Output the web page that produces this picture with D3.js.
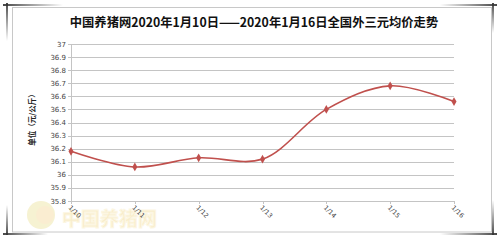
<!DOCTYPE html>
<html><head><meta charset="utf-8">
<script src="https://cdn.jsdelivr.net/npm/d3@7"></script>
<style>body{margin:0;background:#fff}svg{display:block}</style>
</head><body>
<svg id="c" width="500" height="240"></svg>
<script>
const title = "中国养猪网2020年1月10日——2020年1月16日全国外三元均价走势";
const yTitle = "单位（元/公斤）";
const categories = ["1/10","1/11","1/12","1/13","1/14","1/15","1/16"];
const prices = [36.18,36.06,36.13,36.12,36.50,36.68,36.56];
const yTicks = [35.8,35.9,36,36.1,36.2,36.3,36.4,36.5,36.6,36.7,36.8,36.9,37];
const watermark = "中国养猪网";

const svg = d3.select("#c");
const defs = svg.append("defs");
function grad(id,x1,y1,x2,y2){
  const g = defs.append("linearGradient").attr("id",id).attr("x1",x1).attr("y1",y1).attr("x2",x2).attr("y2",y2);
  g.append("stop").attr("offset","0").attr("stop-color","#333").attr("stop-opacity",0.9);
  g.append("stop").attr("offset","1").attr("stop-color","#333").attr("stop-opacity",0);
}
grad("gR","0","0","1","0"); grad("gL","1","0","0","0"); grad("gD","0","0","0","1"); grad("gU","0","1","0","0");

// inner frame
svg.append("rect").attr("x",12.5).attr("y",7.5).attr("width",479).attr("height",224.5)
  .attr("fill","#fff").attr("stroke","#c8c8c8").attr("stroke-width",1);
// corner marks
svg.append("rect").attr("x",3).attr("y",4).attr("width",60).attr("height",2).attr("fill","url(#gR)");
svg.append("rect").attr("x",6).attr("y",3).attr("width",2).attr("height",38).attr("fill","url(#gD)");
svg.append("rect").attr("x",440).attr("y",4).attr("width",57).attr("height",2).attr("fill","url(#gL)");
svg.append("rect").attr("x",492).attr("y",3).attr("width",2).attr("height",30).attr("fill","url(#gD)");
svg.append("rect").attr("x",3).attr("y",233).attr("width",45).attr("height",2).attr("fill","url(#gR)");
svg.append("rect").attr("x",6).attr("y",205).attr("width",2).attr("height",30).attr("fill","url(#gU)");
svg.append("rect").attr("x",440).attr("y",233).attr("width",57).attr("height",2).attr("fill","url(#gL)");
svg.append("rect").attr("x",492).attr("y",200).attr("width",2).attr("height",35).attr("fill","url(#gU)");

// watermark
const wm = svg.append("g").attr("opacity",0.5);
wm.append("circle").attr("cx",41).attr("cy",215).attr("r",14).attr("fill","#efe6a6");
wm.append("circle").attr("cx",45).attr("cy",215).attr("r",9).attr("fill","#f6dca4");
wm.append("text").attr("x",62).attr("y",226).attr("font-family","Noto Sans CJK SC").attr("font-weight","bold")
  .attr("font-size",19).attr("fill","#f3dc98").attr("stroke","#fbefc8").attr("stroke-width",1).text(watermark);

const L=71, R=454, T=44, B=201;
const x = d3.scalePoint().domain(categories).range([L,R]);
const y = d3.scaleLinear().domain([35.8,37]).range([B,T]);

// gridlines
svg.append("g").selectAll("line").data(yTicks).join("line")
  .attr("x1",L-3).attr("x2",R).attr("y1",d=>Math.round(y(d))+0.5).attr("y2",d=>Math.round(y(d))+0.5)
  .attr("stroke","#c4c4c4").attr("stroke-width",1);
// y axis line
svg.append("line").attr("x1",L+0.5).attr("x2",L+0.5).attr("y1",T).attr("y2",B).attr("stroke","#c4c4c4");
// x ticks
svg.append("g").selectAll("line").data(categories).join("line")
  .attr("x1",d=>Math.round(x(d))+0.5).attr("x2",d=>Math.round(x(d))+0.5).attr("y1",B).attr("y2",B+3)
  .attr("stroke","#c4c4c4");

// y labels
svg.append("g").selectAll("text").data(yTicks).join("text")
  .attr("x",L-5).attr("y",d=>y(d)+2.5).attr("text-anchor","end")
  .attr("font-family","DejaVu Sans").attr("font-size",7).attr("fill","#444")
  .text(d=>d3.format("~g")(d));
// x labels
svg.append("g").selectAll("text").data(categories).join("text")
  .attr("transform",d=>`translate(${x(d)-3},${B+7}) rotate(45)`)
  .attr("font-family","DejaVu Sans").attr("font-size",6.5).attr("fill","#444").text(d=>d);

// y title
svg.append("text").attr("transform","translate(35,118) rotate(-90)").attr("text-anchor","middle")
  .attr("font-family","Noto Sans CJK SC").attr("font-weight","bold").attr("font-size",7.5).attr("fill","#222").text(yTitle);

// title
svg.append("text").attr("x",254).attr("y",27).attr("text-anchor","middle")
  .attr("font-family","Noto Sans CJK SC").attr("font-weight","bold").attr("font-size",12.3).attr("fill","#111").text(title);

// line
const data = categories.map((c,i)=>({c,v:prices[i]}));
const line = d3.line().x(d=>x(d.c)).y(d=>y(d.v)).curve(d3.curveCatmullRom.alpha(0.5));
svg.append("path").datum(data).attr("d",line).attr("fill","none").attr("stroke","#c0504d").attr("stroke-width",1.6);
svg.append("g").selectAll("path").data(data).join("path")
  .attr("transform",d=>`translate(${x(d.c)},${y(d.v)})`)
  .attr("d",d3.symbol(d3.symbolDiamond,22)).attr("fill","#c0504d");
</script>
</body></html>
